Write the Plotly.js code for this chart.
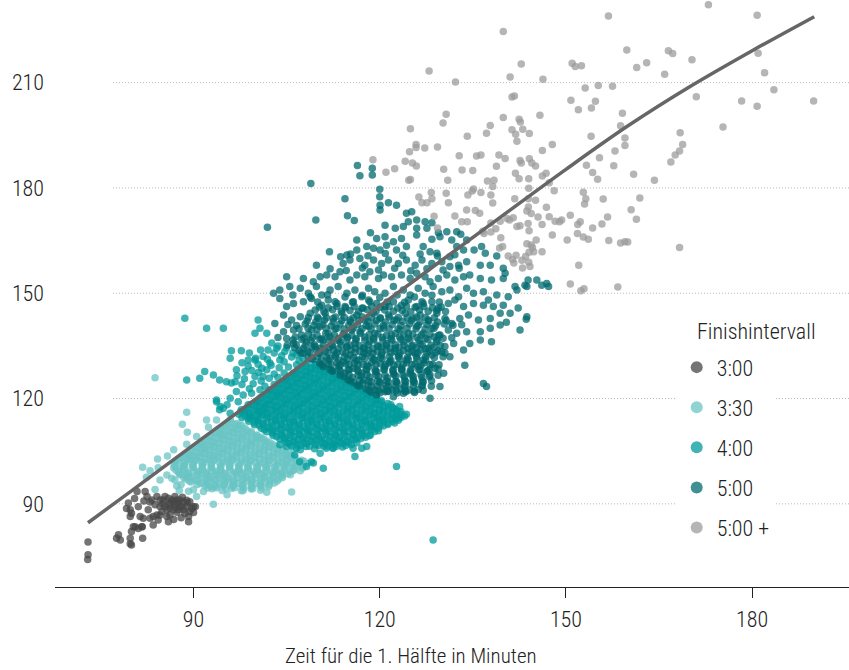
<!DOCTYPE html>
<html>
<head>
<meta charset="utf-8">
<script src="https://cdn.plot.ly/plotly-3.0.1.min.js"></script>
<style>html,body{margin:0;padding:0;background:#fff;}#chart{width:849px;height:670px;}</style>
</head>
<body>
<div id="chart"></div>
<script>
// Legend categories (finish interval)
const finishLabels = ['3:00', '3:30', '4:00', '5:00', '5:00 +'];
const finishColors = ['#474747', '#69c4c4', '#009b9b', '#006a6e', '#9c9c9c'];
const legendTitle = 'Finishintervall';
const xTitle = 'Zeit für die 1. Hälfte in Minuten';

// Axis ticks
const xTicks = [90, 120, 150, 180];
const yTicks = [90, 120, 150, 180, 210];

// Smoothed trend line
const fitX = [73, 80, 90, 100, 110, 120, 130, 140, 150, 160, 170, 180, 190];
const fitY = [84.6, 93.7, 106.8, 119.8, 133.0, 146.3, 159.4, 172.4, 185.3, 197.7, 208.9, 219.1, 228.8];

// [first half, second half] in minutes, per finish interval
const pts300 = [[73.0,79.1],[73.0,75.5],[72.95,74.1],[77.9,81.2],[78.2,79.7],[77.6,80.2],[79.8,80.2],[80.0,78.3],[79.8,78.6],[81.8,80.2],[80.0,82.1],[80.6,83.5],[81.7,83.5],[79.5,90.2],[79.8,88.3],[80.0,87.3],[81.4,86.4],[81.1,89.2],[82.2,93.5],[82.5,92.1],[82.7,88.3],[83.0,85.9],[83.5,86.4],[84.1,92.1],[83.8,89.7],[84.1,86.8],[84.6,86.8],[84.6,89.2],[85.1,91.1],[85.7,86.4],[85.95,84.9],[86.2,86.8],[86.5,91.1],[87.0,92.1],[86.8,88.3],[87.3,91.1],[87.8,91.1],[88.1,89.2],[88.4,88.3],[88.9,89.2],[89.2,86.4],[89.2,84.9],[89.4,90.6],[89.7,88.7],[90.0,89.2],[90.3,89.2],[80.9,93.5],[85.95,91.6],[86.2,90.2],[86.8,90.6],[87.0,89.2],[87.6,90.2],[87.6,88.3],[87.8,89.2],[88.4,90.6],[88.6,87.3],[88.9,91.0],[89.4,87.8],[86.2,88.7],[85.7,88.3],[85.4,89.2],[84.9,87.8],[84.3,85.4],[83.5,84.0],[81.9,85.9],[81.7,83.5],[81.1,83.0],[80.3,83.5],[79.8,86.4],[79.2,88.7],[83.3,91.1],[84.6,91.1],[85.4,92.1],
[86.0,89.8],[87.3,87.6],[88.2,91.9],[85.0,90.0],[88.0,86.0],[90.0,87.5],[83.0,90.5],[86.8,85.5],[82.0,90.8],[80.5,91.5],[89.0,90.3],[87.1,90.0]];

const pts330a = [[88.9,116.1],[88.2,112.7],[89.0,110.4],[81.8,100.4],[83.0,99.4],[84.2,102.8],[85.8,103.6],[86.8,105.4],[84.6,96.8],[83.8,94.1],[85.7,98.2],[87.0,96.8],[87.7,93.8],[93.2,89.9],[98.0,93.8],[101.8,93.3],[88.9,107.0],[90.5,109.2],[92.1,113.9],[92.4,111.8],[93.7,113.9],[94.3,110.1],[91.6,106.3],[89.4,103.5],[88.1,100.6],[88.9,97.8],[90.0,94.0],[90.5,92.1],[91.6,93.5],[92.7,94.9],[95.4,92.6],[96.4,95.4],[104.2,98.5],[105.6,103.5],[106.1,105.4],[83.8,125.9],[105.8,93.4],[88.0,95.5],[89.2,93.6],[86.5,97.3],[87.3,95.1],[84.3,100.3],[82.4,97.6],
[93.0,94.3],[94.6,93.8],[96.1,94.4],[97.7,93.7],[99.3,94.2],[100.8,93.9],
[89.6,96.2],[91.1,95.8],[92.6,96.4],[94.1,95.7],[95.6,96.3],[97.1,95.8],[98.6,96.4],[100.1,95.7],[101.6,96.2],[103.0,95.9],
[87.9,98.3],[89.4,97.7],[90.9,98.4],[92.4,97.9],[93.9,98.2],[95.4,97.6],[96.9,98.4],[98.4,97.8],[99.9,98.3],[101.4,97.7],[102.9,98.2],[104.3,97.9],[105.6,98.3],
[86.8,100.2],[88.3,99.7],[89.8,100.4],[91.3,99.8],[92.8,100.3],[94.3,99.7],[95.8,100.4],[97.3,99.9],[98.8,100.2],[100.3,99.6],[101.8,100.3],[103.3,99.8],[104.8,100.4],[106.3,99.8],[107.6,100.2],
[87.2,102.2],[88.7,101.7],[90.2,102.4],[91.7,101.8],[93.2,102.3],[94.7,101.7],[96.2,102.4],[97.7,101.9],[99.2,102.2],[100.7,101.6],[102.2,102.3],[103.7,101.8],[105.2,102.2],[106.7,101.7],[107.8,102.1],
[88.6,104.2],[90.1,103.7],[91.6,104.4],[93.1,103.8],[94.6,104.3],[96.1,103.7],[97.6,104.4],[99.1,103.9],[100.6,104.2],[102.1,103.6],[103.6,104.3],[105.0,103.8],
[90.2,106.2],[91.7,105.7],[93.2,106.4],[94.7,105.8],[96.2,106.3],[97.7,105.7],[99.2,106.4],[100.7,105.9],[102.2,106.2],[103.6,105.7],
[91.7,108.2],[93.2,107.7],[94.7,108.4],[96.2,107.8],[97.7,108.3],[99.2,107.7],[100.7,108.3],[101.8,107.9],
[93.3,110.2],[94.8,109.7],[96.3,110.4],[97.8,109.8],[99.3,110.2],[100.2,109.6],
[94.8,112.2],[96.3,111.7],[97.8,112.3],[95.9,114.0],
[91.8,95.2],[93.4,94.8],[94.8,95.3],[96.3,94.9],[97.9,95.1],[99.3,94.8],[100.8,95.2],[102.1,94.9],
[88.8,97.1],[90.3,96.8],[91.9,97.2],[93.3,96.9],[94.8,97.3],[96.4,96.8],[97.8,97.1],[99.3,96.9],[100.9,97.2],[102.3,96.8],[103.7,97.1],
[87.6,99.1],[89.1,98.8],[90.7,99.2],[92.1,98.9],[93.6,99.3],[95.1,98.8],[96.7,99.1],[98.1,98.9],[99.6,99.2],[101.1,98.8],[102.6,99.1],[104.1,98.9],[105.6,99.2],
[86.9,101.1],[88.4,100.8],[89.9,101.2],[91.4,100.9],[92.9,101.3],[94.4,100.8],[95.9,101.1],[97.4,100.9],[98.9,101.2],[100.4,100.8],[101.9,101.1],[103.4,100.9],[104.9,101.2],[106.4,100.8],[107.7,101.0],
[87.9,103.1],[89.4,102.8],[90.9,103.2],[92.4,102.9],[93.9,103.1],[95.4,102.8],[96.9,103.2],[98.4,102.9],[99.9,103.1],[101.4,102.8],[102.9,103.2],[104.4,102.9],[105.9,103.0],
[89.4,105.1],[90.9,104.8],[92.4,105.2],[93.9,104.9],[95.4,105.1],[96.9,104.8],[98.4,105.2],[99.9,104.9],[101.4,105.1],[102.9,104.8],[104.3,105.0],
[91.0,107.1],[92.5,106.8],[94.0,107.2],[95.5,106.9],[97.0,107.1],[98.5,106.8],[100.0,107.2],[101.5,106.9],[102.7,107.0],
[92.5,109.1],[94.0,108.8],[95.5,109.2],[97.0,108.9],[98.5,109.1],[100.0,108.8],[100.9,109.0],
[94.0,111.1],[95.5,110.8],[97.0,111.2],[98.6,110.9],[95.5,113.1],[97.0,112.9]];

const pts330b = [[92.3,94.5],[93.75,94.6],[95.2,94.4],[96.65,94.6],[98.1,94.5],[99.55,94.4],[101.0,94.6],
[90.6,95.5],[92.05,95.6],[93.5,95.4],[94.95,95.6],[96.4,95.5],[97.85,95.4],[99.3,95.6],[100.75,95.5],[102.2,95.4],
[89.3,96.5],[90.75,96.6],[92.2,96.4],[93.65,96.6],[95.1,96.5],[96.55,96.4],[98.0,96.6],[99.45,96.5],[100.9,96.4],[102.35,96.6],[103.5,96.5],
[88.4,97.5],[89.85,97.6],[91.3,97.4],[92.75,97.6],[94.2,97.5],[95.65,97.4],[97.1,97.6],[98.55,97.5],[100.0,97.4],[101.45,97.6],[102.9,97.5],[104.3,97.4],
[87.7,98.5],[89.15,98.6],[90.6,98.4],[92.05,98.6],[93.5,98.5],[94.95,98.4],[96.4,98.6],[97.85,98.5],[99.3,98.4],[100.75,98.6],[102.2,98.5],[103.65,98.4],[105.1,98.6],
[87.2,99.5],[88.65,99.6],[90.1,99.4],[91.55,99.6],[93.0,99.5],[94.45,99.4],[95.9,99.6],[97.35,99.5],[98.8,99.4],[100.25,99.6],[101.7,99.5],[103.15,99.4],[104.6,99.6],[106.05,99.5],[107.2,99.4],
[87.1,100.5],[88.55,100.6],[90.0,100.4],[91.45,100.6],[92.9,100.5],[94.35,100.4],[95.8,100.6],[97.25,100.5],[98.7,100.4],[100.15,100.6],[101.6,100.5],[103.05,100.4],[104.5,100.6],[105.95,100.5],[107.4,100.4],
[87.0,101.5],[88.45,101.6],[89.9,101.4],[91.35,101.6],[92.8,101.5],[94.25,101.4],[95.7,101.6],[97.15,101.5],[98.6,101.4],[100.05,101.6],[101.5,101.5],[102.95,101.4],[104.4,101.6],[105.85,101.5],[107.3,101.4],[108.3,101.5],
[87.6,102.5],[89.05,102.6],[90.5,102.4],[91.95,102.6],[93.4,102.5],[94.85,102.4],[96.3,102.6],[97.75,102.5],[99.2,102.4],[100.65,102.6],[102.1,102.5],[103.55,102.4],[105.0,102.6],[106.45,102.5],[107.4,102.4],
[88.3,103.5],[89.75,103.6],[91.2,103.4],[92.65,103.6],[94.1,103.5],[95.55,103.4],[97.0,103.6],[98.45,103.5],[99.9,103.4],[101.35,103.6],[102.8,103.5],[104.25,103.4],[105.7,103.6],[106.3,103.4],
[89.0,104.5],[90.45,104.6],[91.9,104.4],[93.35,104.6],[94.8,104.5],[96.25,104.4],[97.7,104.6],[99.15,104.5],[100.6,104.4],[102.05,104.6],[103.5,104.5],[104.95,104.4],[105.4,104.5],
[89.8,105.5],[91.25,105.6],[92.7,105.4],[94.15,105.6],[95.6,105.5],[97.05,105.4],[98.5,105.6],[99.95,105.5],[101.4,105.4],[102.85,105.6],[104.3,105.5],
[90.6,106.5],[92.05,106.6],[93.5,106.4],[94.95,106.6],[96.4,106.5],[97.85,106.4],[99.3,106.6],[100.75,106.5],[102.2,106.4],[103.3,106.5],
[91.4,107.5],[92.85,107.6],[94.3,107.4],[95.75,107.6],[97.2,107.5],[98.65,107.4],[100.1,107.6],[101.55,107.5],[102.3,107.4],
[92.1,108.5],[93.55,108.6],[95.0,108.4],[96.45,108.6],[97.9,108.5],[99.35,108.4],[100.8,108.6],[101.3,108.4],
[92.9,109.5],[94.35,109.6],[95.8,109.4],[97.25,109.6],[98.7,109.5],[100.15,109.4],
[93.6,110.5],[95.05,110.6],[96.5,110.4],[97.95,110.6],[99.3,110.5],
[94.4,111.5],[95.85,111.6],[97.3,111.4],[98.3,111.5],[95.2,112.5],[96.65,112.6],[97.4,112.4],[96.0,113.5]];

const pts400a = [[88.6,142.9],[92.1,140.0],[94.8,140.0],[100.4,142.4],[100.7,140.0],[99.9,138.6],[101.8,138.6],[96.1,133.6],[97.7,133.6],[95.9,131.5],[98.8,131.0],[99.9,131.0],[101.2,132.0],[102.3,130.1],[101.0,128.6],[103.9,131.0],[103.4,134.3],[102.6,135.8],[104.7,133.4],[106.6,129.6],[88.9,125.3],[91.0,125.8],[91.8,127.7],[93.2,126.7],[94.2,125.3],[95.3,124.8],[96.1,124.4],[96.7,124.8],[96.9,128.2],[98.3,127.7],[99.9,126.3],[101.2,126.3],[96.9,122.0],[98.0,121.0],[99.35,121.5],[100.7,122.5],[102.3,122.5],[103.4,121.0],[93.7,119.1],[94.8,117.2],[95.9,120.1],[97.2,119.1],[98.8,118.2],[100.2,118.7],[101.5,117.7],[94.2,116.8],[95.9,115.8],[97.7,116.8],[99.1,114.9],[100.7,115.8],[118.7,112.0],[120.0,113.9],[122.2,117.2],[123.2,117.7],[123.0,114.4],[117.9,106.3],[117.1,105.8],[116.0,103.5],[112.8,106.8],[111.4,105.8],[110.4,104.4],[109.0,102.0],[108.2,100.6],[109.3,101.6],[110.9,100.1],[112.5,105.8],[106.3,103.9],[107.1,102.0],[105.0,106.3],[103.9,106.8],[115.7,105.8],[122.7,100.6],[128.6,79.7],[93.7,119.6],[94.3,117.7],[95.4,118.2],[107.2,105.4],
[100.5,127.5],[101.8,128.2],[103.0,127.0],[102.5,129.5],[103.8,128.8],[104.6,130.5],[105.3,129.0],[105.8,131.8],[104.2,132.2],[103.0,133.0],[101.9,131.2],[100.4,129.8],[99.4,128.0],[98.2,125.6],[99.6,124.2],[100.9,125.0],[102.2,125.8],[103.6,126.0],[104.6,127.3],[106.2,127.0],[107.0,130.8],[106.0,133.0],[105.0,134.5],[103.6,135.0],[102.0,133.8],[100.8,133.8],[99.0,133.0],[97.8,130.2],[98.8,129.3],[100.0,131.5],[104.8,125.5],[103.0,124.0],[101.5,123.5],[97.0,126.5],[99.0,122.8],[97.8,124.0],[106.6,132.5],[107.6,131.5],
[106.6,105.8],[108.1,106.3],[109.5,105.7],[111.0,106.4],[112.4,105.9],[114.0,106.2],
[104.6,108.3],[106.0,107.7],[107.5,108.4],[108.9,107.9],[110.3,108.5],[111.8,107.8],[113.2,108.2],[114.7,107.6],[116.1,108.3],
[102.7,110.2],[104.1,109.7],[105.6,110.4],[107.0,109.8],[108.4,110.5],[109.9,109.9],[111.3,110.3],[112.8,109.6],[114.2,110.4],[115.7,109.8],[117.1,110.2],[118.5,109.6],
[100.6,112.3],[102.0,111.7],[103.5,112.4],[104.9,111.8],[106.3,112.5],[107.8,111.9],[109.2,112.2],[110.7,111.6],[112.1,112.4],[113.5,111.8],[115.0,112.3],[116.4,111.7],[117.9,112.4],[119.3,111.9],[120.6,112.2],
[98.9,114.2],[100.3,113.8],[101.8,114.5],[103.2,113.9],[104.6,114.3],[106.1,113.7],[107.5,114.4],[109.0,113.8],[110.4,114.2],[111.8,113.6],[113.3,114.4],[114.7,113.9],[116.2,114.3],[117.6,113.7],[119.0,114.4],[120.5,113.9],[121.9,114.2],[123.0,113.8],
[97.6,116.2],[99.0,115.7],[100.5,116.4],[101.9,115.8],[103.4,116.3],[104.8,115.7],[106.2,116.4],[107.7,115.9],[109.1,116.2],[110.6,115.6],[112.0,116.4],[113.4,115.8],[114.9,116.3],[116.3,115.7],[117.8,116.4],[119.2,115.9],[120.6,116.2],[122.1,115.8],[123.4,116.3],
[99.2,118.3],[100.6,117.8],[102.1,118.4],[103.5,117.7],[104.9,118.2],[106.4,117.9],[107.8,118.5],[109.3,117.8],[110.7,118.3],[112.1,117.7],[113.6,118.4],[115.0,117.9],[116.5,118.2],[117.9,117.7],[119.3,118.4],[120.8,117.9],[121.8,118.2],
[100.8,120.2],[102.3,119.7],[103.7,120.4],[105.1,119.8],[106.6,120.3],[108.0,119.7],[109.5,120.4],[110.9,119.9],[112.3,120.2],[113.8,119.6],[115.2,120.3],[116.7,119.8],[118.1,120.2],[119.5,119.7],
[102.3,122.2],[103.8,121.7],[105.2,122.4],[106.7,121.8],[108.1,122.3],[109.5,121.7],[111.0,122.4],[112.4,121.9],[113.9,122.2],[115.3,121.6],[116.7,122.3],[117.6,121.8],
[103.8,124.2],[105.3,123.7],[106.7,124.4],[108.2,123.8],[109.6,124.3],[111.0,123.7],[112.5,124.4],[113.9,123.9],[115.4,124.1],
[105.3,126.2],[106.8,125.7],[108.2,126.4],[109.7,125.8],[111.1,126.3],[112.5,125.7],[113.6,126.2],
[106.8,128.2],[108.3,127.7],[109.7,128.3],[111.2,127.8],
[108.3,130.1],[109.6,129.7],
[105.4,107.1],[106.8,106.9],[108.2,107.2],[109.7,106.8],[111.1,107.1],[112.6,106.9],[114.0,107.2],[115.4,106.8],
[103.4,109.1],[104.8,108.8],[106.3,109.2],[107.7,108.9],[109.2,109.1],[110.6,108.8],[112.1,109.2],[113.5,108.9],[115.0,109.1],[116.4,108.8],[117.7,109.0],
[101.4,111.1],[102.8,110.8],[104.2,111.2],[105.7,110.9],[107.1,111.1],[108.6,110.8],[110.0,111.2],[111.5,110.9],[112.9,111.1],[114.3,110.8],[115.8,111.2],[117.2,110.9],[118.7,111.1],[119.8,110.8],
[99.8,113.1],[101.2,112.8],[102.6,113.2],[104.1,112.9],[105.5,113.1],[107.0,112.8],[108.4,113.2],[109.8,112.9],[111.3,113.1],[112.7,112.8],[114.2,113.2],[115.6,112.9],[117.0,113.1],[118.5,112.8],[119.9,113.2],[121.3,112.9],[122.4,113.0],
[98.3,115.1],[99.7,114.8],[101.2,115.2],[102.6,114.9],[104.0,115.1],[105.5,114.8],[106.9,115.2],[108.4,114.9],[109.8,115.1],[111.2,114.8],[112.7,115.2],[114.1,114.9],[115.6,115.1],[117.0,114.8],[118.4,115.2],[119.9,114.9],[121.3,115.1],[122.7,114.8],[124.0,115.0],
[98.4,117.1],[99.9,116.8],[101.3,117.2],[102.8,116.9],[104.2,117.1],[105.6,116.8],[107.1,117.2],[108.5,116.9],[110.0,117.1],[111.4,116.8],[112.8,117.2],[114.3,116.9],[115.7,117.1],[117.2,116.8],[118.6,117.2],[120.0,116.9],[121.4,117.1],[122.6,116.8],
[100.0,119.1],[101.5,118.8],[102.9,119.2],[104.4,118.9],[105.8,119.1],[107.2,118.8],[108.7,119.2],[110.1,118.9],[111.6,119.1],[113.0,118.8],[114.4,119.2],[115.9,118.9],[117.3,119.1],[118.8,118.8],[120.2,119.0],
[101.6,121.1],[103.0,120.8],[104.5,121.2],[105.9,120.9],[107.3,121.1],[108.8,120.8],[110.2,121.2],[111.7,120.9],[113.1,121.1],[114.5,120.8],[116.0,121.2],[117.4,120.9],[118.6,121.0],
[103.1,123.1],[104.5,122.8],[106.0,123.2],[107.4,122.9],[108.8,123.1],[110.3,122.8],[111.7,123.2],[113.2,122.9],[114.6,123.1],[116.0,122.8],[116.8,123.0],
[104.6,125.1],[106.0,124.8],[107.5,125.2],[108.9,124.9],[110.3,125.1],[111.8,124.8],[113.2,125.2],[114.6,124.9],
[106.1,127.1],[107.5,126.8],[108.9,127.2],[110.4,126.9],[111.8,127.1],[112.8,126.9],
[107.6,129.1],[109.0,128.8],[110.4,129.0]];

const pts400b = [[105.8,106.5],[107.25,106.6],[108.7,106.4],[110.15,106.6],[111.6,106.5],[113.05,106.4],[114.5,106.6],
[104.9,107.5],[106.35,107.6],[107.8,107.4],[109.25,107.6],[110.7,107.5],[112.15,107.4],[113.6,107.6],[115.05,107.5],[116.3,107.4],
[103.9,108.5],[105.35,108.6],[106.8,108.4],[108.25,108.6],[109.7,108.5],[111.15,108.4],[112.6,108.6],[114.05,108.5],[115.5,108.4],[116.95,108.6],
[102.8,109.5],[104.25,109.6],[105.7,109.4],[107.15,109.6],[108.6,109.5],[110.05,109.4],[111.5,109.6],[112.95,109.5],[114.4,109.4],[115.85,109.6],[117.3,109.5],[118.3,109.4],
[101.8,110.5],[103.25,110.6],[104.7,110.4],[106.15,110.6],[107.6,110.5],[109.05,110.4],[110.5,110.6],[111.95,110.5],[113.4,110.4],[114.85,110.6],[116.3,110.5],[117.75,110.4],[119.2,110.6],
[100.9,111.5],[102.35,111.6],[103.8,111.4],[105.25,111.6],[106.7,111.5],[108.15,111.4],[109.6,111.6],[111.05,111.5],[112.5,111.4],[113.95,111.6],[115.4,111.5],[116.85,111.4],[118.3,111.6],[119.75,111.5],
[99.8,112.5],[101.25,112.6],[102.7,112.4],[104.15,112.6],[105.6,112.5],[107.05,112.4],[108.5,112.6],[109.95,112.5],[111.4,112.4],[112.85,112.6],[114.3,112.5],[115.75,112.4],[117.2,112.6],[118.65,112.5],[120.1,112.4],[121.3,112.6],
[98.9,113.5],[100.35,113.6],[101.8,113.4],[103.25,113.6],[104.7,113.5],[106.15,113.4],[107.6,113.6],[109.05,113.5],[110.5,113.4],[111.95,113.6],[113.4,113.5],[114.85,113.4],[116.3,113.6],[117.75,113.5],[119.2,113.4],[120.65,113.6],[122.1,113.5],
[97.8,114.5],[99.25,114.6],[100.7,114.4],[102.15,114.6],[103.6,114.5],[105.05,114.4],[106.5,114.6],[107.95,114.5],[109.4,114.4],[110.85,114.6],[112.3,114.5],[113.75,114.4],[115.2,114.6],[116.65,114.5],[118.1,114.4],[119.55,114.6],[121.0,114.5],[122.45,114.4],[123.4,114.6],
[97.3,115.5],[98.75,115.6],[100.2,115.4],[101.65,115.6],[103.1,115.5],[104.55,115.4],[106.0,115.6],[107.45,115.5],[108.9,115.4],[110.35,115.6],[111.8,115.5],[113.25,115.4],[114.7,115.6],[116.15,115.5],[117.6,115.4],[119.05,115.6],[120.5,115.5],[121.95,115.4],[123.4,115.6],[124.3,115.5],
[98.1,116.5],[99.55,116.6],[101.0,116.4],[102.45,116.6],[103.9,116.5],[105.35,116.4],[106.8,116.6],[108.25,116.5],[109.7,116.4],[111.15,116.6],[112.6,116.5],[114.05,116.4],[115.5,116.6],[116.95,116.5],[118.4,116.4],[119.85,116.6],[121.3,116.5],[122.75,116.4],
[98.8,117.5],[100.25,117.6],[101.7,117.4],[103.15,117.6],[104.6,117.5],[106.05,117.4],[107.5,117.6],[108.95,117.5],[110.4,117.4],[111.85,117.6],[113.3,117.5],[114.75,117.4],[116.2,117.6],[117.65,117.5],[119.1,117.4],[120.55,117.6],[122.0,117.5],
[99.6,118.5],[101.05,118.6],[102.5,118.4],[103.95,118.6],[105.4,118.5],[106.85,118.4],[108.3,118.6],[109.75,118.5],[111.2,118.4],[112.65,118.6],[114.1,118.5],[115.55,118.4],[117.0,118.6],[118.45,118.5],[119.9,118.4],[121.3,118.6],
[100.4,119.5],[101.85,119.6],[103.3,119.4],[104.75,119.6],[106.2,119.5],[107.65,119.4],[109.1,119.6],[110.55,119.5],[112.0,119.4],[113.45,119.6],[114.9,119.5],[116.35,119.4],[117.8,119.6],[119.25,119.5],[120.3,119.4],
[101.1,120.5],[102.55,120.6],[104.0,120.4],[105.45,120.6],[106.9,120.5],[108.35,120.4],[109.8,120.6],[111.25,120.5],[112.7,120.4],[114.15,120.6],[115.6,120.5],[117.05,120.4],[118.5,120.6],[119.4,120.5],
[101.9,121.5],[103.35,121.6],[104.8,121.4],[106.25,121.6],[107.7,121.5],[109.15,121.4],[110.6,121.6],[112.05,121.5],[113.5,121.4],[114.95,121.6],[116.4,121.5],[117.85,121.4],
[102.7,122.5],[104.15,122.6],[105.6,122.4],[107.05,122.6],[108.5,122.5],[109.95,122.4],[111.4,122.6],[112.85,122.5],[114.3,122.4],[115.75,122.6],[117.2,122.5],
[103.5,123.5],[104.95,123.6],[106.4,123.4],[107.85,123.6],[109.3,123.5],[110.75,123.4],[112.2,123.6],[113.65,123.5],[115.1,123.4],[116.3,123.5],
[104.2,124.5],[105.65,124.6],[107.1,124.4],[108.55,124.6],[110.0,124.5],[111.45,124.4],[112.9,124.6],[114.35,124.5],[115.3,124.4],
[105.0,125.5],[106.45,125.6],[107.9,125.4],[109.35,125.6],[110.8,125.5],[112.25,125.4],[113.7,125.6],[114.3,125.5],
[105.8,126.5],[107.25,126.6],[108.7,126.4],[110.15,126.6],[111.6,126.5],[113.05,126.4],
[106.5,127.5],[107.95,127.6],[109.4,127.4],[110.85,127.6],[112.3,127.5],
[107.3,128.5],[108.75,128.6],[110.2,128.4],[111.3,128.5],[108.1,129.5],[109.55,129.6],[110.4,129.4]];

const pts500a = [[108.9,181.3],[116.4,186.4],[116.8,183.5],[118.8,185.6],[118.8,183.7],[114.4,176.9],[120.0,179.6],[120.0,177.5],[120.05,175.1],[120.05,173.7],[121.4,175.8],[122.7,175.1],[109.7,170.9],[114.8,172.1],[101.9,168.8],[124.3,172.8],[125.15,173.2],[115.9,170.7],[120.85,169.4],[122.5,168.5],[123.8,169.0],[124.6,170.4],[125.95,170.9],[127.3,170.4],[128.4,170.1],[125.95,168.5],[127.6,168.5],[129.45,167.2],[130.8,167.5],[132.4,167.5],[133.05,166.8],
[118.5,167.2],[119.5,165.6],[120.85,166.1],[122.2,164.7],[123.5,165.6],[125.95,166.6],[128.4,165.35],[129.7,166.1],[131.6,165.2],[134.0,165.2],[116.3,165.2],[111.9,161.8],
[113.7,160.4],[114.7,160.9],[116.3,162.3],[117.9,163.3],[119.0,162.8],[120.05,162.3],[121.1,163.7],[122.7,162.3],[124.3,163.3],[127.0,163.3],[128.1,161.8],[129.2,161.4],[131.3,160.4],[132.4,163.3],[133.5,162.3],[135.2,162.3],[136.4,163.3],[137.0,161.4],[138.85,160.6],
[109.8,158.0],[114.1,158.5],[115.2,159.5],[116.8,159.9],[117.6,158.0],[119.0,159.5],[120.3,158.5],[121.4,159.5],[123.0,158.5],[124.3,159.5],[125.7,158.0],[126.8,159.5],[128.4,158.5],[130.0,159.0],[131.3,157.6],[132.7,158.0],[134.0,159.0],[136.2,158.0],[137.8,158.0],[139.9,157.1],[140.2,155.7],
[105.0,154.7],[107.7,154.2],[109.3,153.3],[110.4,154.7],[111.45,155.2],[112.8,154.7],[113.6,156.1],[115.2,153.8],[116.3,155.2],[117.6,154.7],[118.4,156.1],[119.8,154.2],[120.6,155.2],[121.9,154.7],[123.5,155.2],[124.9,154.2],[125.95,155.7],[127.3,154.7],[128.1,153.3],[129.45,154.2],[130.8,155.2],[132.1,153.8],[133.5,154.7],[134.5,155.2],[136.2,154.2],[138.0,153.8],[139.9,154.2],[141.8,151.9],[143.4,152.3],[143.9,153.8],[145.3,153.8],[146.9,152.8],[147.2,151.9],[146.1,152.3],[143.7,151.9],
[102.9,150.0],[103.9,150.9],[105.5,151.9],[107.2,151.4],[108.5,150.0],[109.8,151.9],[110.65,149.5],[112.0,150.9],[113.3,151.9],[114.7,150.0],[116.0,150.9],[117.1,149.0],[118.2,151.4],[119.2,150.4],[120.85,150.0],[122.2,151.9],[123.8,150.9],[124.9,149.5],[126.2,151.4],[127.3,150.0],[128.6,151.9],[130.0,150.4],[131.3,150.9],[132.7,149.0],[134.0,151.4],[135.1,150.0],[136.7,150.4],[137.5,148.1],[138.85,149.5],[140.7,149.0],[142.1,150.9],
[103.9,148.5],[105.0,146.2],[106.1,147.1],[107.7,147.6],[109.0,148.5],[110.65,146.6],[111.7,148.1],[113.1,147.1],[114.4,146.2],[115.75,147.6],[117.1,145.7],[118.2,148.1],[119.5,147.1],[120.85,146.2],[122.2,147.6],[123.5,146.6],[124.6,148.1],[125.95,146.2],[127.0,147.1],[128.4,147.6],[129.45,145.7],[131.05,147.1],[132.1,148.1],[133.5,146.2],[135.1,147.1],[136.7,146.6],[138.3,146.2],[139.9,146.6],[142.3,145.8],
[103.1,141.4],[104.5,143.8],[105.8,142.4],[107.2,143.3],[108.8,144.3],[110.1,142.8],[111.2,144.3],[112.5,142.8],[113.9,144.3],[115.2,142.4],[116.3,143.8],[117.6,142.4],[119.0,144.3],[120.05,142.8],[121.4,143.8],[122.7,142.4],[124.1,144.3],[125.4,142.8],[126.5,143.8],[127.8,142.4],[129.2,144.3],[130.5,142.8],[131.6,141.4],[132.9,142.8],[134.3,143.8],[135.9,142.4],[137.8,142.8],[139.4,144.3],[141.0,144.3],[143.7,143.3],[143.6,142.6],[140.4,141.7],
[104.5,139.0],[106.1,139.5],[107.4,138.1],[109.0,139.5],[110.4,140.5],[111.7,138.6],[113.1,140.0],[114.4,138.1],[115.5,139.5],[116.8,139.0],[118.2,140.5],[119.2,138.6],[120.6,140.0],[121.9,138.1],[123.3,139.5],[124.6,138.6],[125.95,140.5],[127.0,138.6],[128.4,140.0],[129.7,138.1],[131.05,139.5],[132.4,138.6],[134.0,139.0],[136.2,139.0],[137.8,140.0],[139.4,140.95],[142.6,139.5],
[106.1,135.7],[108.2,136.2],[109.6,134.8],[110.9,136.7],[112.3,135.2],[113.6,136.2],[114.7,134.8],[116.0,135.7],[117.4,134.3],[118.4,136.2],[119.8,134.8],[121.1,135.7],[122.5,134.3],[123.8,136.2],[125.15,134.8],[126.5,135.7],[127.8,134.3],[129.2,136.2],[130.5,134.8],[131.9,135.7],[133.5,133.8],[134.5,135.7],[136.2,136.7],[138.0,136.2],
[107.7,132.9],[109.0,131.4],[110.4,132.9],[111.7,131.0],[112.8,132.4],[114.1,130.5],[115.2,132.4],[116.55,131.0],[117.9,132.9],[119.2,131.0],[120.3,132.4],[121.65,130.5],[123.0,132.4],[124.3,131.0],[125.7,132.9],[127.0,131.0],[128.4,132.4],[130.0,133.3],[131.3,131.9],[133.7,129.5],
[110.9,129.1],[112.4,127.8],[113.3,129.1],[114.4,127.2],[115.75,128.6],[117.1,127.2],[118.2,129.1],[119.5,127.65],[120.85,129.1],[122.2,127.2],[123.5,128.6],[124.9,127.2],[126.2,129.1],[127.6,127.65],[128.9,128.6],[130.3,127.2],
[114.9,125.3],[116.4,123.8],[117.4,125.3],[118.7,123.4],[120.05,124.8],[121.4,123.4],[122.7,124.8],[124.1,123.8],[125.4,125.3],[126.8,123.8],[136.7,124.3],[137.2,123.4],
[119.5,121.0],[120.85,121.95],[122.2,120.5],[123.8,121.5],[128.1,120.05],[129.7,123.4],
[106.0,149.5],[108.8,149.0],[111.6,149.6],[114.4,148.9],[117.2,149.4],[120.0,148.8],[122.8,149.5],[125.6,148.9],[128.4,149.4],
[109.6,145.2],[111.0,144.8],[112.4,145.3],[113.8,144.9],[115.2,145.1],[116.6,144.7],[118.0,145.3],[119.4,144.8],[120.8,145.2],[122.2,144.9],[123.6,145.1],[125.0,144.7],[126.4,145.2],[127.8,144.9],[129.2,145.1],[130.6,144.8],
[105.2,141.1],[106.6,140.8],[108.0,141.2],[109.4,140.9],[110.8,141.1],[112.2,140.7],[113.6,141.2],[115.0,140.9],[116.4,141.1],[117.8,140.8],[119.2,141.2],[120.6,140.9],[122.0,141.1],[123.4,140.8],[124.8,141.2],[126.2,140.9],[127.6,141.1],[129.0,140.8],[130.4,141.2],[131.8,140.9],[133.2,141.0],
[103.6,137.4],[105.0,137.1],[106.4,137.5],[107.8,137.2],[109.2,137.4],[110.6,137.0],[112.0,137.5],[113.4,137.2],[114.8,137.4],[116.2,137.1],[117.6,137.5],[119.0,137.2],[120.4,137.4],[121.8,137.0],[123.2,137.5],[124.6,137.2],[126.0,137.4],[127.4,137.1],[128.8,137.5],[130.2,137.2],[131.6,137.3],
[107.0,133.7],[108.4,133.4],[109.8,133.8],[111.2,133.5],[112.6,133.7],[114.0,133.3],[115.4,133.8],[116.8,133.5],[118.2,133.7],[119.6,133.4],[121.0,133.8],[122.4,133.5],[123.8,133.7],[125.2,133.3],[126.6,133.8],[128.0,133.5],[129.4,133.6],
[110.3,130.1],[111.7,129.8],[113.1,130.2],[114.5,129.9],[115.9,130.1],[117.3,129.7],[118.7,130.2],[120.1,129.9],[121.5,130.1],[122.9,129.8],[124.3,130.2],[125.7,129.9],[127.1,130.1],[128.5,129.8],
[114.2,126.3],[115.6,126.0],[117.0,126.4],[118.4,126.1],[119.8,126.3],[121.2,125.9],[122.6,126.4],[124.0,126.1],[125.4,126.3],[126.8,126.0],[128.0,126.2],
[117.8,122.7],[119.2,122.4],[120.6,122.8],[122.0,122.5],[123.4,122.7],[124.8,122.4],[126.2,122.6],
[112.0,157.0],[114.6,156.5],[117.2,157.2],[119.8,156.6],[122.4,157.1],[125.0,156.4],[127.6,157.0],[130.2,156.6],[132.8,157.1],
[115.3,161.2],[118.1,160.7],[120.9,161.3],[123.7,160.8],[126.5,161.2],[129.3,160.6],[132.1,161.0],
[110.3,146.1],[111.7,145.9],[113.1,146.3],[114.5,145.9],[115.9,146.2],[117.3,145.8],[118.7,146.3],[120.1,146.0],[121.5,146.2],[122.9,145.8],[124.3,146.3],[125.7,146.0],[127.1,146.2],[128.5,145.9],[129.9,146.1],
[108.3,142.1],[109.7,141.9],[111.1,142.3],[112.5,141.9],[113.9,142.2],[115.3,141.8],[116.7,142.3],[118.1,142.0],[119.5,142.2],[120.9,141.8],[122.3,142.3],[123.7,142.0],[125.1,142.2],[126.5,141.9],[127.9,142.1],[129.3,141.8],[130.7,142.2],
[108.5,138.3],[109.9,138.1],[111.3,138.5],[112.7,138.1],[114.1,138.4],[115.5,138.0],[116.9,138.5],[118.3,138.2],[119.7,138.4],[121.1,138.0],[122.5,138.5],[123.9,138.2],[125.3,138.4],[126.7,138.1],[128.1,138.3],[129.5,138.0],
[106.3,134.5],[107.7,134.3],[109.1,134.7],[110.5,134.3],[111.9,134.6],[113.3,134.2],[114.7,134.7],[116.1,134.4],[117.5,134.6],[118.9,134.2],[120.3,134.7],[121.7,134.4],[123.1,134.6],[124.5,134.3],[125.9,134.5],[127.3,134.2],[128.7,134.6],
[109.2,131.2],[110.6,131.0],[112.0,131.4],[113.4,131.0],[114.8,131.3],[116.2,130.9],[117.6,131.4],[119.0,131.1],[120.4,131.3],[121.8,130.9],[123.2,131.4],[124.6,131.1],[126.0,131.3],[127.4,131.0],
[112.3,128.0],[113.7,127.8],[115.1,128.2],[116.5,127.8],[117.9,128.1],[119.3,127.7],[120.7,128.2],[122.1,127.9],[123.5,128.1],[124.9,127.8],[126.3,128.2],[127.7,127.9],
[115.8,124.6],[117.2,124.4],[118.6,124.8],[120.0,124.4],[121.4,124.7],[122.8,124.3],[124.2,124.8],[125.6,124.5],[127.0,124.7],
[118.6,121.8],[120.0,121.6],[121.4,122.0],[122.8,121.6],[124.2,121.9],[125.6,121.7]];

const pts500b = [[118.3,122.2],[119.75,122.3],[121.2,122.1],[122.65,122.3],[124.1,122.2],[125.55,122.1],[127.0,122.3],
[116.7,123.6],[118.15,123.7],[119.6,123.5],[121.05,123.7],[122.5,123.6],[123.95,123.5],[125.4,123.7],[126.85,123.6],[128.3,123.5],
[115.3,125.0],[116.75,125.1],[118.2,124.9],[119.65,125.1],[121.1,125.0],[122.55,124.9],[124.0,125.1],[125.45,125.0],[126.9,124.9],[128.35,125.1],
[113.6,126.7],[115.05,126.8],[116.5,126.6],[117.95,126.8],[119.4,126.7],[120.85,126.6],[122.3,126.8],[123.75,126.7],[125.2,126.6],[126.65,126.8],[128.1,126.7],[129.4,126.6],
[112.0,128.3],[113.45,128.4],[114.9,128.2],[116.35,128.4],[117.8,128.3],[119.25,128.2],[120.7,128.4],[122.15,128.3],[123.6,128.2],[125.05,128.4],[126.5,128.3],[127.95,128.2],[129.4,128.4],
[110.7,129.6],[112.15,129.7],[113.6,129.5],[115.05,129.7],[116.5,129.6],[117.95,129.5],[119.4,129.7],[120.85,129.6],[122.3,129.5],[123.75,129.7],[125.2,129.6],[126.65,129.5],[128.1,129.7],[129.55,129.6],
[108.5,131.8],[109.95,131.9],[111.4,131.7],[112.85,131.9],[114.3,131.8],[115.75,131.7],[117.2,131.9],[118.65,131.8],[120.1,131.7],[121.55,131.9],[123.0,131.8],[124.45,131.7],[125.9,131.9],[127.35,131.8],[128.8,131.7],[130.2,131.9],
[107.3,133.0],[108.75,133.1],[110.2,132.9],[111.65,133.1],[113.1,133.0],[114.55,132.9],[116.0,133.1],[117.45,133.0],[118.9,132.9],[120.35,133.1],[121.8,133.0],[123.25,132.9],[124.7,133.1],[126.15,133.0],[127.6,132.9],[129.05,133.1],[130.5,133.0],
[105.1,135.2],[106.55,135.3],[108.0,135.1],[109.45,135.3],[110.9,135.2],[112.35,135.1],[113.8,135.3],[115.25,135.2],[116.7,135.1],[118.15,135.3],[119.6,135.2],[121.05,135.1],[122.5,135.3],[123.95,135.2],[125.4,135.1],[126.85,135.3],[128.3,135.2],[129.75,135.1],
[106.0,136.7],[107.45,136.8],[108.9,136.6],[110.35,136.8],[111.8,136.7],[113.25,136.6],[114.7,136.8],[116.15,136.7],[117.6,136.6],[119.05,136.8],[120.5,136.7],[121.95,136.6],[123.4,136.8],[124.85,136.7],[126.3,136.6],[127.75,136.8],[129.2,136.7],
[107.0,139.9],[108.45,140.0],[109.9,139.8],[111.35,140.0],[112.8,139.9],[114.25,139.8],[115.7,140.0],[117.15,139.9],[118.6,139.8],[120.05,140.0],[121.5,139.9],[122.95,139.8],[124.4,140.0],[125.85,139.9],[127.3,139.8],[128.75,140.0],
[108.5,143.1],[109.95,143.2],[111.4,143.0],[112.85,143.2],[114.3,143.1],[115.75,143.0],[117.2,143.2],[118.65,143.1],[120.1,143.0],[121.55,143.2],[123.0,143.1],[124.45,143.0],[125.9,143.2],[127.35,143.1],[128.8,143.0],
[110.0,147.5],[112.8,147.6],[115.6,147.4],[118.4,147.6],[121.2,147.5],[124.0,147.4],[126.8,147.6],[129.6,147.5]];

const ptsOver = [[172.95,232.2],[156.84,229.0],[180.8,229.2],[139.9,224.6],[159.8,219.3],[166.5,219.1],[167.2,218.3],[180.96,218.4],[127.95,213.3],[132.2,210.2],[151.0,215.5],[151.5,214.6],[152.5,214.8],[142.8,215.3],[161.4,214.3],[163.0,215.7],[170.3,216.5],[165.9,212.4],[182.0,212.8],[141.0,211.6],[146.3,211.0],[153.1,208.5],[155.2,209.2],[157.5,209.0],[183.5,208.0],[171.0,206.0],[178.3,204.8],[180.8,203.3],[189.9,204.8],[141.3,205.9],[141.7,206.2],[150.8,205.0],[152.0,202.3],[154.1,202.8],[154.75,204.7],[159.1,201.3],[175.3,197.4],[130.7,201.0],[130.2,198.5],[139.9,200.1],[142.45,199.6],[142.66,198.8],[145.8,200.7],[124.94,196.9],[137.8,197.8],[137.2,195.6],[134.1,194.7],[141.3,196.6],[141.9,195.3],[143.04,196.7],[144.1,195.5],[142.1,193.3],[158.8,197.7],[159.5,194.2],[159.5,192.1],[168.4,195.75],[168.8,192.4],[168.3,190.5],[167.6,189.4],[166.9,187.4],[154.05,194.7],[157.9,190.5],[125.85,192.4],[125.85,191.5],[127.25,191.4],[129.3,191.7],[124.8,190.3],[147.8,192.4],[146.2,190.7],[132.8,189.2],[135.6,189.1],[136.3,189.4],[139.2,189.4],[140.2,188.4],[142.6,187.8],[142.8,187.1],[144.1,188.3],[144.5,187.1],[145.1,186.25],[155.4,188.6],[124.1,187.6],[125.26,187.1],[125.9,186.25],[121.0,184.45],[122.4,185.5],[130.3,185.3],[133.26,185.1],[134.98,185.0],[138.8,186.2],[141.86,184.2],[142.45,182.65],[144.0,182.65],[146.2,183.4],[146.8,184.2],[147.3,181.5],[153.3,186.45],[154.3,184.4],[155.1,182.5],[157.7,186.35],[160.9,183.9],[164.25,182.2],[124.67,182.2],[124.94,182.4],[130.95,182.2],[137.35,182.0],[138.4,182.2],[138.2,180.4],[135.1,179.7],[134.9,179.1],[136.3,178.7],[134.2,178.0],[128.3,178.7],[130.7,178.5],[126.3,177.4],[126.8,175.8],[128.4,176.95],[131.06,175.8],[137.9,178.0],[138.2,175.7],[141.75,176.95],[144.0,179.9],[143.95,176.95],[145.1,176.5],[148.1,179.2],[152.8,178.8],[153.2,176.95],[153.0,175.4],[156.0,176.85],[161.9,177.15],[160.5,173.8],[161.35,171.06],[156.7,171.7],[155.8,169.7],[154.3,168.6],[152.3,170.4],[151.9,169.6],[150.7,172.2],[149.3,170.9],[148.25,170.5],[148.95,170.4],[147.3,171.8],[146.15,169.6],[147.8,166.6],[145.5,171.7],[146.85,174.5],[143.95,174.6],[143.7,173.4],[144.4,172.7],[143.9,169.9],[142.6,169.25],[140.9,170.9],[141.5,171.5],[140.5,171.3],[139.4,170.5],[138.7,168.4],[137.9,167.45],[136.1,172.8],[135.4,173.6],[134.0,173.7],[132.1,172.0],[133.2,170.4],[134.1,170.4],[136.6,167.65],[136.8,167.05],[137.9,170.0],[139.5,165.8],[139.8,163.3],[139.3,162.9],[142.1,169.0],[144.06,167.8],[145.2,165.2],[143.7,164.1],[144.4,163.75],[144.6,163.0],[144.8,161.8],[144.06,161.66],[143.5,160.5],[141.96,160.8],[141.4,159.6],[141.6,158.6],[142.9,159.4],[144.0,158.8],[144.2,157.6],[146.15,161.8],[150.2,165.2],[151.85,167.05],[152.8,166.0],[153.6,165.4],[156.9,165.0],[158.8,164.3],[159.5,164.7],[159.95,164.6],[168.3,163.0],[152.06,157.95],[150.7,152.6],[152.4,150.7],[152.9,151.3],[158.35,151.8],[143.0,157.2],[140.7,160.6],[128.75,171.9],[129.3,168.6],[127.6,175.8],[118.9,188.0]];

const groups = [pts300, pts330a.concat(pts330b), pts400a.concat(pts400b), pts500a.concat(pts500b), ptsOver];
const FONT = "'Roboto Condensed', 'Liberation Sans Narrow', 'Arial Narrow', 'DejaVu Sans Condensed', sans-serif";

const traces = groups.map((g, i) => ({
  type: 'scatter', mode: 'markers',
  name: finishLabels[i], legendgroup: 'g' + i,
  x: g.map(p => p[0]), y: g.map(p => p[1]),
  marker: { size: 7.5, color: finishColors[i], opacity: 0.75, line: { width: 0 } },
  cliponaxis: false, hoverinfo: 'x+y'
}));
traces.push({
  type: 'scatter', mode: 'lines', x: fitX, y: fitY, showlegend: false,
  line: { color: '#666666', width: 3.5, shape: 'spline' }, hoverinfo: 'skip'
});

const shapes = yTicks.map(v => ({
  type: 'line', xref: 'paper', yref: 'y', x0: 0.073, x1: 1, y0: v, y1: v,
  line: { color: '#b5b5b5', width: 1, dash: '1px,2px' }, layer: 'below'
}));

const fnt = (s) => ({ family: FONT, size: s, color: '#222222', weight: 300 });

const layout = {
  width: 849, height: 670,
  margin: { l: 55, r: 0, t: 0, b: 83 },
  paper_bgcolor: '#ffffff', plot_bgcolor: '#ffffff',
  font: fnt(22),
  showlegend: true,
  xaxis: {
    range: [67.68, 195.6], tickvals: xTicks, ticktext: xTicks.map(String),
    showgrid: false, zeroline: false, showline: true, linecolor: '#222222', linewidth: 1.3,
    ticks: 'outside', ticklen: 10, tickwidth: 1, tickcolor: '#222222',
    tickfont: fnt(22), ticklabelstandoff: 2
  },
  yaxis: {
    range: [66.3, 233.55], tickvals: yTicks, ticktext: yTicks.map(String),
    showgrid: false, zeroline: false, showline: false, ticks: '',
    tickfont: fnt(22), ticklabelstandoff: 10
  },
  legend: {
    x: 0.783, xanchor: 'left', y: 0.41, yanchor: 'top',
    bgcolor: '#ffffff', borderwidth: 0,
    font: fnt(22),
    itemsizing: 'constant', traceorder: 'grouped', tracegroupgap: 8.5
  },
  shapes: shapes,
  annotations: [{
    text: legendTitle, xref: 'paper', yref: 'paper',
    x: (695 - 55) / 794, y: 1 - 331 / 587, xanchor: 'left', yanchor: 'middle', showarrow: false,
    font: fnt(22)
  }, {
    text: xTitle, xref: 'paper', yref: 'paper',
    x: 0.448, y: -0.1175, xanchor: 'center', yanchor: 'middle', showarrow: false,
    font: fnt(21)
  }]
};

Plotly.newPlot('chart', traces, layout, { staticPlot: true, displayModeBar: false });
</script>
</body>
</html>
